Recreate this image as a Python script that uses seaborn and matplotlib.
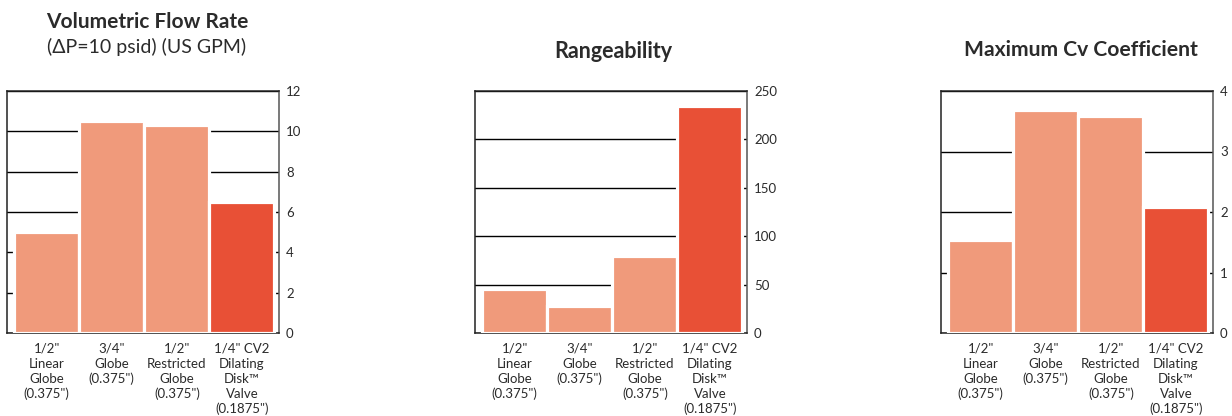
import matplotlib
matplotlib.use("Agg")
import matplotlib.pyplot as plt
import seaborn as sns
import pandas as pd

# Chart data
categories = ['1/2"\nLinear\nGlobe\n(0.375")',
              '3/4"\nGlobe\n(0.375")',
              '1/2"\nRestricted\nGlobe\n(0.375")',
              '1/4" CV2\nDilating\nDisk™\nValve\n(0.1875")']
flow_rate = [5.0, 10.5, 10.3, 6.5]
rangeability = [45, 28, 80, 235]
max_cv = [1.53, 3.69, 3.58, 2.08]

flow_ticks = [0, 2, 4, 6, 8, 10, 12]
range_ticks = [0, 50, 100, 150, 200, 250]
cv_ticks = [0, 1, 2, 3, 4]

bar_colors = ["#F09A7B", "#F09A7B", "#F09A7B", "#E85036"]
text_color = "#2b2b2b"

sns.set_theme(style="white")
plt.rcParams['font.family'] = ['Lato', 'DejaVu Sans']

fig = plt.figure(figsize=(12.32, 4.16), dpi=100)
W, H = 1232, 416

panels = [
    (7, flow_rate, flow_ticks),
    (475, rangeability, range_ticks),
    (941, max_cv, cv_ticks),
]

for left, values, ticks in panels:
    ax = fig.add_axes([left / W, (H - 333) / H, 272 / W, 242 / H])
    df = pd.DataFrame({"cat": categories, "val": values})
    sns.barplot(data=df, x="cat", y="val", hue="cat", palette=bar_colors,
                width=1.0, legend=False, ax=ax, zorder=3, saturation=1,
                edgecolor="white", linewidth=2.3)
    ax.set_xlim(-0.61, 3.57)
    ax.set_ylim(ticks[0], ticks[-1])
    ax.set_yticks(ticks)
    ax.yaxis.tick_right()
    ax.tick_params(axis="y", length=0, pad=5, labelsize=9.5, labelcolor=text_color)
    ax.tick_params(axis="x", length=0, pad=7, labelsize=9.5, labelcolor=text_color)
    for lab in ax.get_xticklabels():
        lab.set_linespacing(1.3)
    ax.grid(axis="y", color="black", linewidth=1, zorder=1)
    ax.set_axisbelow(True)
    for s in ax.spines.values():
        s.set_visible(True)
        s.set_color("#222222")
        s.set_linewidth(1.1)
    ax.spines["right"].set_color("#555555")
    ax.set_xlabel("")
    ax.set_ylabel("")

fig.text(147 / W, 1 - 22 / H, "Volumetric Flow Rate", ha="center", va="center",
         fontsize=15, fontweight="bold", color=text_color)
fig.text(147 / W, 1 - 47 / H, "(ΔP=10 psid) (US GPM)", ha="center", va="center",
         fontsize=14, color=text_color)
fig.text(613 / W, 1 - 51 / H, "Rangeability", ha="center", va="center",
         fontsize=15.5, fontweight="bold", color=text_color)
fig.text(1081 / W, 1 - 50 / H, "Maximum Cv Coefficient", ha="center", va="center",
         fontsize=15.2, fontweight="bold", color=text_color)

fig.savefig("out.png", dpi=100)
